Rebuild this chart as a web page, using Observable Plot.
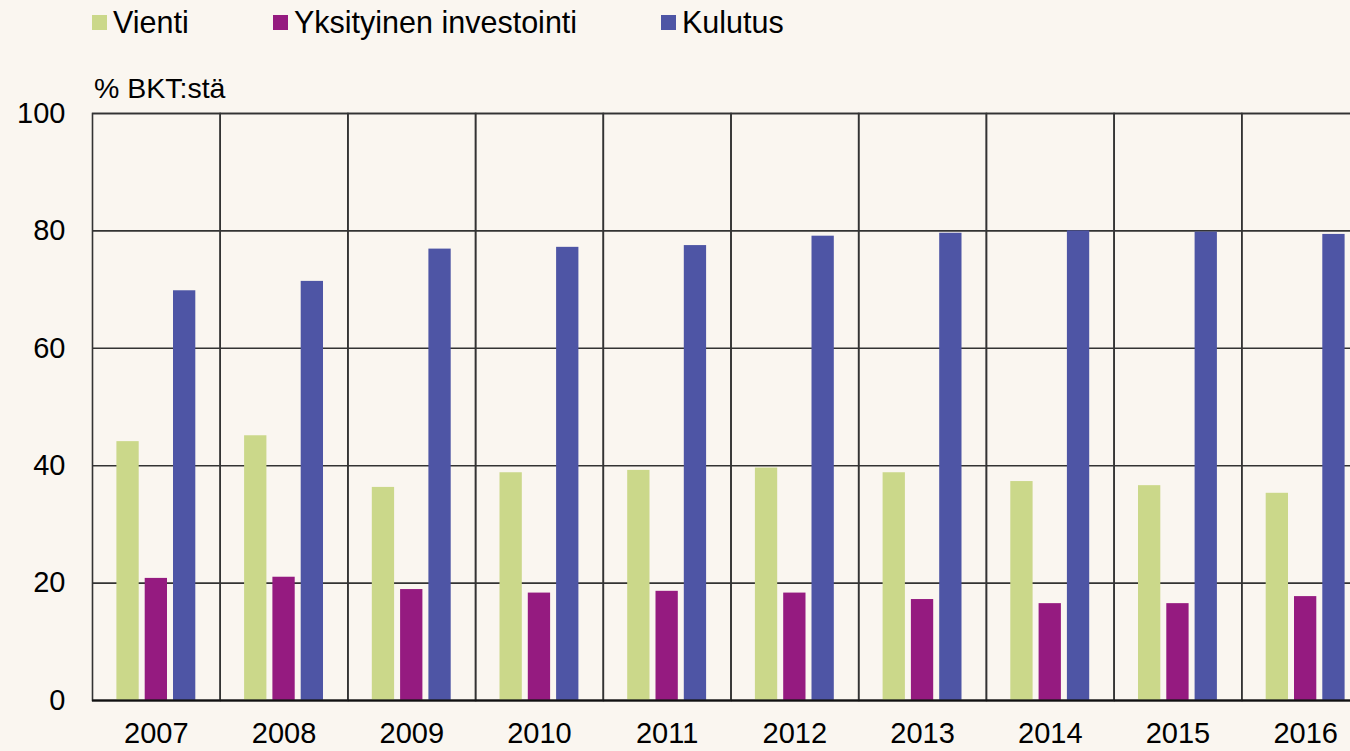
<!DOCTYPE html>
<html>
<head>
<meta charset="utf-8">
<script src="https://cdn.jsdelivr.net/npm/d3@7"></script>
<script src="https://cdn.jsdelivr.net/npm/@observablehq/plot@0.6"></script>
<style>
  html, body { margin: 0; padding: 0; background: #FAF6F0; overflow: hidden; width: 1350px; height: 751px; }
  #wrap { position: relative; width: 1350px; height: 751px; overflow: hidden; font-family: "Liberation Sans", Arial, sans-serif; color: #000; }
  .leg { position: absolute; top: 4px; font-size: 30.5px; display: flex; align-items: center; height: 36px; white-space: nowrap; }
  .sw { display: inline-block; width: 15px; height: 15px; margin-right: 6px; }
  #ylab { position: absolute; left: 94px; top: 72px; font-size: 28.5px; white-space: nowrap; }
  #chart { position: absolute; left: 0; top: 0; width: 1370px; }
  #chart svg { max-width: none !important; }
</style>
</head>
<body>
<div id="wrap">
  <div id="chart"></div>
  <div id="legend"></div>
  <div id="ylab">% BKT:stä</div>
</div>
<script>
const years = ["2007","2008","2009","2010","2011","2012","2013","2014","2015","2016"];
const seriesNames = ["Vienti", "Yksityinen investointi", "Kulutus"];
const seriesColors = ["#CBD88A", "#951B80", "#4E55A5"];
const vienti = [44.1, 45.1, 36.3, 38.8, 39.2, 39.6, 38.8, 37.3, 36.6, 35.3];
const investointi = [20.8, 21.0, 18.9, 18.3, 18.6, 18.3, 17.2, 16.5, 16.5, 17.7];
const kulutus = [69.8, 71.4, 76.9, 77.2, 77.5, 79.1, 79.6, 80.0, 79.8, 79.4];
const yTicks = [0, 20, 40, 60, 80, 100];
const legendX = [92, 273, 661];

const seriesValues = [vienti, investointi, kulutus];
const data = [];
years.forEach((yr, i) => {
  seriesNames.forEach((s, j) => data.push({year: yr, series: s, value: seriesValues[j][i]}));
});

const chart = Plot.plot({
  width: 1370,
  height: 751,
  marginLeft: 92,
  marginRight: 1,
  marginTop: 113,
  marginBottom: 51,
  style: {background: "transparent", fontFamily: "'Liberation Sans', Arial, sans-serif", fontSize: "29px", color: "#000", overflow: "visible", maxWidth: "none"},
  fx: {domain: years, padding: 0, round: false},
  x: {domain: seriesNames, paddingInner: 0.212, paddingOuter: 0.862, round: false, axis: null},
  y: {domain: [0, 100]},
  color: {domain: seriesNames, range: seriesColors},
  marks: [
    Plot.ruleY(yTicks, {stroke: "#333", strokeWidth: 1.6}),
    Plot.barY(data, {fx: "year", x: "series", y: "value", fill: "series"}),
    Plot.frame({stroke: "#333", strokeWidth: 1.6}),
    Plot.ruleY([0], {stroke: "#111", strokeWidth: 2}),
    Plot.axisY(yTicks, {tickSize: 0, tickPadding: 27, label: null, fontSize: 29, fill: "#000"}),
    Plot.axisFx({anchor: "bottom", tickSize: 0, tickPadding: 22, label: null, fontSize: 29, fill: "#000"})
  ]
});
chart.style.maxWidth = "none";
document.getElementById("chart").appendChild(chart);

const legend = document.getElementById("legend");
seriesNames.forEach((s, i) => {
  const d = document.createElement("div");
  d.className = "leg";
  d.style.left = legendX[i] + "px";
  const sw = document.createElement("span");
  sw.className = "sw";
  sw.style.background = seriesColors[i];
  d.appendChild(sw);
  d.appendChild(document.createTextNode(s));
  legend.appendChild(d);
});
</script>
</body>
</html>
